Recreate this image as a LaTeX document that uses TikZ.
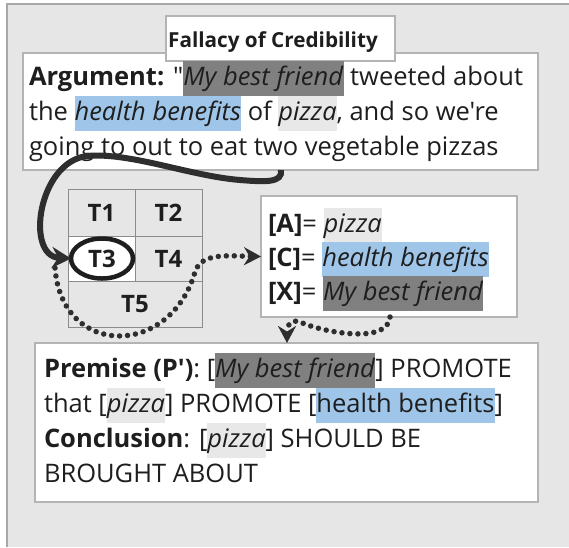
\documentclass[tikz,border=0pt]{standalone}
\usepackage{fontspec}
\setmainfont{Open Sans}[Ligatures=TeXOff]
\usetikzlibrary{arrows.meta,shapes.geometric}
\definecolor{bg}{HTML}{E6E6E6}
\definecolor{bgline}{HTML}{A8A8A8}
\definecolor{boxline}{HTML}{B4B4B4}
\definecolor{cellline}{HTML}{8C8C8C}
\definecolor{ink}{HTML}{1E1E1E}
\definecolor{arrowc}{HTML}{2E2E2E}
\definecolor{hlD}{HTML}{808080}
\definecolor{hlB}{HTML}{9FC5E8}
\definecolor{hlL}{HTML}{E8E8E8}
\newcommand\hlD[1]{{\setlength\fboxsep{0pt}\colorbox{hlD}{\strut#1}}}
\newcommand\hlB[1]{{\setlength\fboxsep{0pt}\colorbox{hlB}{\strut#1}}}
\newcommand\hlL[1]{{\setlength\fboxsep{0pt}\colorbox{hlL}{\strut#1}}}
\begin{document}
\begin{tikzpicture}[x=1pt,y=-1pt,
  every node/.style={inner sep=0pt,outer sep=0pt,text=ink},
  box/.style={draw=boxline,line width=1.4pt,fill=white,anchor=north west},
  txt/.style={anchor=base west,font=\fontsize{25.5}{35}\selectfont},
  cell/.style={draw=cellline,line width=1pt,anchor=north west,font=\bfseries\fontsize{24}{28}\selectfont},
  solidarrow/.style={draw=arrowc,line width=6pt,-{Stealth[length=19pt,width=21pt]}},
  dotarrow/.style={draw=arrowc,line width=5.5pt,line cap=round,dash pattern=on 0pt off 8pt,-{Stealth[length=17pt,width=18pt]}}]
\useasboundingbox (0,0) rectangle (569,547);
% background
\fill[bg] (7,4) rectangle (569,547);
\draw[bgline,line width=1.8pt] (7,547) -- (7,4) -- (569,4);
% argument box
\node[box,minimum width=515pt,minimum height=117pt] (arg) at (23,53) {};
\node[box,minimum width=229pt,minimum height=45pt] (title) at (166,16) {};
\node[anchor=base,font=\bfseries\fontsize{20.7}{25}\selectfont] (titletxt) at (273,47) {Fallacy of Credibility};
\node[txt] (arg1) at (29,85) {\textbf{Argument:} "\hlD{\textit{My best friend}} tweeted about};
\node[txt] (arg2) at (29,120) {the \hlB{\textit{health benefits}} of \hlL{\textit{pizza}}, and so we're};
\node[txt] (arg3) at (29,155) {going to out to eat two vegetable pizzas};
% table
\node[cell,fill=bg,minimum width=67pt,minimum height=47pt] (t1) at (68,189) {T1};
\node[cell,fill=bg,minimum width=67pt,minimum height=47pt] (t2) at (135,189) {T2};
\node[cell,fill=white,minimum width=67pt,minimum height=45pt] (t3) at (68,236) {};
\node[cell,fill=bg,minimum width=67pt,minimum height=45pt] (t4) at (135,236) {T4};
\node[cell,fill=bg,minimum width=134pt,minimum height=46pt] (t5) at (68,281) {T5};
\node[ellipse,draw=ink,line width=4.5pt,minimum width=62pt,minimum height=40pt,font=\bfseries\fontsize{24}{28}\selectfont] (t3e) at (102,258.5) {T3};
% right box
\node[box,minimum width=256pt,minimum height=121pt] (rbox) at (261,196) {};
\node[txt] (ra) at (268,232) {\textbf{[A]}= \hlL{\textit{pizza}}};
\node[txt] (rc) at (268,266) {\textbf{[C]}= \hlB{\textit{health benefits}}};
\node[txt] (rx) at (268,300) {\textbf{[X]}= \hlD{\textit{My best friend}}};
% premise box
\node[box,minimum width=503pt,minimum height=159pt] (prem) at (35,343) {};
\node[txt] (p1) at (44,377) {\textbf{Premise (P')}: [\hlD{\textit{My best friend}}] PROMOTE};
\node[txt] (p2) at (44,412) {that [\hlL{\textit{pizza}}] PROMOTE [\hlB{health benefits}]};
\node[txt] (p3) at (44,447) {\textbf{Conclusion}: [\hlL{\textit{pizza}}] SHOULD BE};
\node[txt] (p4) at (44,482) {BROUGHT ABOUT};
% connectors
\coordinate (s1) at (281,170);
\draw[solidarrow] (s1) .. controls (283,183) and (265,182) .. (240,180)
  .. controls (190,176) and (130,152) .. (87,156)
  .. controls (38,162) and (25,256) .. (t3e.west);
\coordinate (d1s) at (55,268);
\coordinate (d1m) at (195,272);
\draw[dotarrow] (d1s) .. controls (62,358) and (170,358) .. (d1m)
  .. controls (201,252) and (230,256) .. (rbox.west);
\coordinate (d2s) at (390,317);
\coordinate (d2m) at (300,322);
\coordinate (d2e) at (287,343);
\draw[dotarrow] (d2s) .. controls (388,345) and (322,332) .. (d2m)
  .. controls (292,319) and (287,324) .. (d2e);
\end{tikzpicture}
\end{document}
